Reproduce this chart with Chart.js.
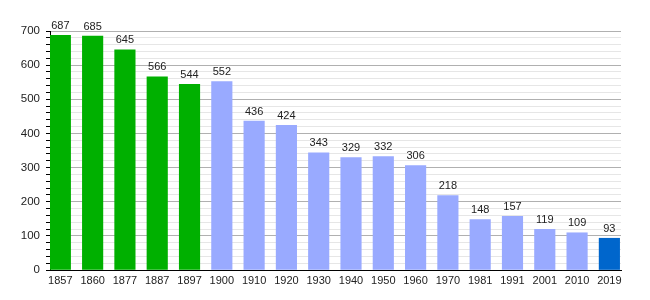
<!DOCTYPE html>
<html>
<head>
<meta charset="utf-8">
<script src="https://cdn.jsdelivr.net/npm/chart.js@4.4.0/dist/chart.umd.min.js"></script>
<style>
  html, body { margin: 0; padding: 0; background: #fff; }
  #wrap { width: 650px; height: 300px; }
</style>
</head>
<body>
<div id="wrap"><canvas id="myChart"></canvas></div>
<script>
// census years and population
var years = ["1857","1860","1877","1887","1897","1900","1910","1920","1930","1940","1950","1960","1970","1981","1991","2001","2010","2019"];
var population = [687, 685, 645, 566, 544, 552, 436, 424, 343, 329, 332, 306, 218, 148, 157, 119, 109, 93];
var yTicks = [0, 100, 200, 300, 400, 500, 600, 700];

// 1857..1897 green, 1900..2010 light blue, latest dark blue
function barColor(ctx) {
  var i = ctx.dataIndex;
  if (i === population.length - 1) return '#0066cc';
  if (parseInt(years[i]) < 1900) return '#00b000';
  return '#99aaff';
}

var valueLabels = {
  id: 'valueLabels',
  afterDatasetsDraw: function(chart) {
    var c = chart.ctx;
    var meta = chart.getDatasetMeta(0);
    c.save();
    c.font = '11px "Liberation Sans", Arial, sans-serif';
    c.fillStyle = '#222';
    c.textAlign = 'center';
    c.textBaseline = 'bottom';
    meta.data.forEach(function(bar, i) {
      c.fillText(population[i], bar.x, bar.y - 4);
    });
    c.restore();
  }
};

var ctx = document.getElementById("myChart");
var myChart = new Chart(ctx, {
  type: 'bar',
  data: {
    datasets: [{
      data: population.map(function(v, i) { return {x: i, y: v}; }),
      backgroundColor: barColor,
      borderWidth: 0,
      barThickness: 20.5
    }]
  },
  options: {
    responsive: true,
    maintainAspectRatio: false,
    animation: false,
    layout: { padding: { top: 31, right: 29, left: 0, bottom: 0 } },
    plugins: { legend: { display: false }, tooltip: { enabled: false } },
    scales: {
      x: {
        type: 'linear',
        min: -0.32,
        max: 17.36,
        offset: false,
        afterBuildTicks: function(scale) {
          scale.ticks = population.map(function(v, i) { return {value: i}; });
        },
        afterFit: function(scale) { scale.height = 30; },
        grid: { display: false, drawTicks: false },
        border: { color: '#000', width: 1 },
        ticks: {
          autoSkip: false,
          maxRotation: 0,
          padding: 4,
          color: '#222',
          font: { family: '"Liberation Sans", Arial, sans-serif', size: 11 },
          callback: function(v) { return years[v]; }
        }
      },
      y: {
        min: 0,
        max: 700,
        afterFit: function(scale) { scale.width = 50; },
        afterBuildTicks: function(scale) {
          var t = [];
          for (var v = 0; v <= 700; v += 20) t.push({value: v});
          scale.ticks = t;
        },
        grid: {
          color: function(c) { return c.tick.value % 100 === 0 ? '#b0b0b0' : '#e6e6e6'; },
          tickColor: '#000',
          tickLength: 4
        },
        border: { color: '#000', width: 1 },
        ticks: {
          autoSkip: false,
          padding: 6,
          color: '#222',
          font: { family: '"Liberation Sans", Arial, sans-serif', size: 11.5 },
          callback: function(v) { return yTicks.indexOf(v) >= 0 ? v : ''; }
        }
      }
    }
  },
  plugins: [valueLabels]
});
</script>
</body>
</html>
